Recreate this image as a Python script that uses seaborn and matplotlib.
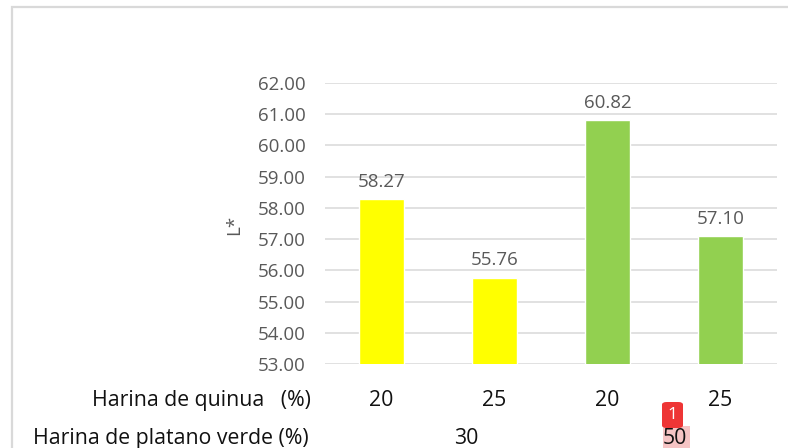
import matplotlib
matplotlib.use("Agg")
import matplotlib.pyplot as plt
from matplotlib.patches import Rectangle, FancyBboxPatch
from matplotlib.transforms import blended_transform_factory
import seaborn as sns
import pandas as pd

# Data
quinua_pct = ["20", "25", "20", "25"]
platano_groups = ["30", "50"]
l_values = [58.27, 55.76, 60.82, 57.10]
bar_colors = ["#FFFF00", "#FFFF00", "#92D050", "#92D050"]
y_ticks = [53, 54, 55, 56, 57, 58, 59, 60, 61, 62]

sns.set_theme(style="white")
plt.rcParams["font.family"] = ["Open Sans", "DejaVu Sans"]

W, H = 788, 448
fig = plt.figure(figsize=(W / 100, H / 100), dpi=100)

def fx(px):
    return px / W

def fy(py):
    return 1 - py / H

# plot area
ax = fig.add_axes([fx(325), fy(364), fx(777) - fx(325), fy(83) - fy(364)])

df = pd.DataFrame({"cat": [f"c{i}" for i in range(len(l_values))], "L": l_values})
sns.barplot(data=df, x="cat", y="L", hue="cat", palette=bar_colors,
            width=0.4, legend=False, ax=ax, saturation=1, zorder=3)

ax.set_ylim(53, 62)
ax.set_yticks(y_ticks)
ax.set_yticklabels([f"{v:.2f}" for v in y_ticks], color="#595959", fontsize=13.5)
ax.tick_params(axis="y", length=0, pad=14)
ax.set_xlim(-0.5, len(l_values) - 0.5)
ax.set_xticks(range(len(l_values)))
ax.set_xticklabels([])
ax.tick_params(axis="x", length=0)
ax.set_xlabel("")
ax.set_ylabel("")
ax.grid(axis="y", color="#D9D9D9", lw=1.1, zorder=0)
for s in ax.spines.values():
    s.set_visible(False)

# value labels
for cont in ax.containers:
    ax.bar_label(cont, fmt="%.2f", padding=6, color="#595959", fontsize=13.5)

# y axis title
fig.text(fx(234), fy(225), "L*", rotation=90, ha="center", va="center",
         color="#595959", fontsize=13.5)

# category rows
trans = blended_transform_factory(ax.transData, fig.transFigure)
fig.text(fx(311), fy(400), "Harina de quinua   (%)", ha="right", va="center",
         fontsize=15.3, color="#111111")
for i, lab in enumerate(quinua_pct):
    ax.text(i, fy(400), lab, transform=trans, ha="center", va="center",
            fontsize=15.3, color="#111111")

fig.text(fx(309), fy(438), "Harina de platano verde (%)", ha="right", va="center",
         fontsize=15.3, color="#111111")

# highlight behind the second group label
fig.patches.append(Rectangle((fx(663), fy(449)), fx(690) - fx(663), fy(426) - fy(449),
                             transform=fig.transFigure, facecolor="#F6C4C4",
                             edgecolor="none", zorder=-1))
for x_pos, lab in zip([0.75, 2.6], platano_groups):
    ax.text(x_pos, fy(438), lab, transform=trans, ha="center", va="center",
            fontsize=15.3, color="#111111", zorder=5)

# comment marker
fig.patches.append(FancyBboxPatch((fx(662), fy(428)), fx(683) - fx(662), fy(402) - fy(428),
                                  boxstyle="round,pad=0,rounding_size=0.006",
                                  transform=fig.transFigure, facecolor="#EE3535",
                                  edgecolor="none", zorder=6))
fig.text(fx(672.5), fy(415), "1", ha="center", va="center", fontsize=12.5,
         color="white", zorder=7)

# outer chart frame
fig.patches.append(Rectangle((fx(12), -0.2), 1.2, fy(7) + 0.2, transform=fig.transFigure,
                             facecolor="none", edgecolor="#D9D9D9", lw=1.6, zorder=-2))

fig.savefig("out.png", dpi=100)
